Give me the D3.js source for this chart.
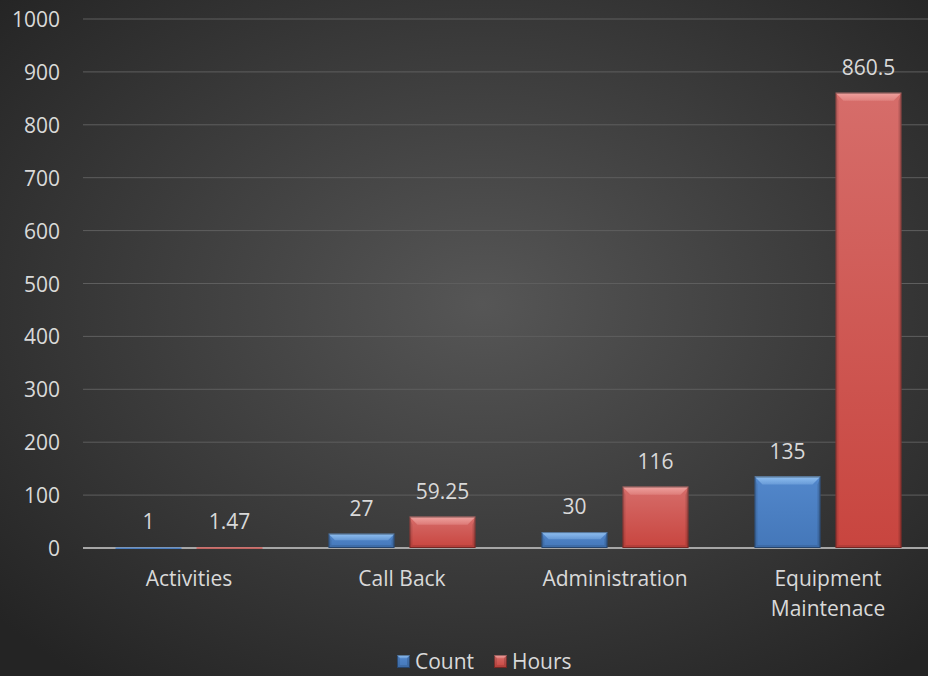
<!DOCTYPE html>
<html>
<head>
<meta charset="utf-8">
<script src="https://cdn.jsdelivr.net/npm/d3@7"></script>
<style>
  html, body { margin: 0; padding: 0; background: #2b2b2b; }
  svg { display: block; }
  text { font-family: "Open Sans", Lato, sans-serif; fill: #d9d9d9; }
</style>
</head>
<body>
<svg id="chart" width="928" height="676"></svg>
<script>
// Work categories and the two measured series
const categories = ["Activities", "Call Back", "Administration", "Equipment Maintenace"];
const categoryLines = [["Activities"], ["Call Back"], ["Administration"], ["Equipment", "Maintenace"]];
const seriesNames = ["Count", "Hours"];
const countValues = [1, 27, 30, 135];
const hoursValues = [1.47, 59.25, 116, 860.5];
const yTicks = [0, 100, 200, 300, 400, 500, 600, 700, 800, 900, 1000];

const seriesColors = {
  Count: { top: "#5287cb", bottom: "#4477b9", bevel: "#93c2f2" },
  Hours: { top: "#d66d6a", bottom: "#c8453f", bevel: "#f0a4a1" }
};

const W = 928, H = 676;
const FONT = 21;
const svg = d3.select("#chart");
const defs = svg.append("defs");

// Background: radial vignette
const bg = defs.append("radialGradient").attr("id", "bg")
  .attr("cx", "52%").attr("cy", "45%").attr("r", "70%");
bg.append("stop").attr("offset", "0%").attr("stop-color", "#565656");
bg.append("stop").attr("offset", "100%").attr("stop-color", "#242424");
svg.append("rect").attr("width", W).attr("height", H).attr("fill", "url(#bg)");

// Bar body and bevel gradients
seriesNames.forEach(s => {
  const g = defs.append("linearGradient").attr("id", "grad-" + s)
    .attr("x1", 0).attr("y1", 0).attr("x2", 0).attr("y2", 1);
  g.append("stop").attr("offset", "0%").attr("stop-color", seriesColors[s].top);
  g.append("stop").attr("offset", "100%").attr("stop-color", seriesColors[s].bottom);
  const b = defs.append("linearGradient").attr("id", "bev-" + s)
    .attr("x1", 0).attr("y1", 0).attr("x2", 0).attr("y2", 1);
  b.append("stop").attr("offset", "0%").attr("stop-color", seriesColors[s].bevel).attr("stop-opacity", 0.95);
  b.append("stop").attr("offset", "100%").attr("stop-color", seriesColors[s].bevel).attr("stop-opacity", 0.35);
});

// Scales
const y = d3.scaleLinear().domain([0, 1000]).range([548, 19]);
const x0 = d3.scaleBand().domain(categories).range([82.5, 934.5]).padding(0);
const x1 = d3.scaleBand().domain(seriesNames).range([0, x0.bandwidth()])
  .paddingInner(0.185).paddingOuter(0.407);

// Gridlines
svg.append("g").attr("class", "grid")
  .selectAll("line").data(yTicks.filter(t => t > 0)).join("line")
  .attr("x1", 83).attr("x2", W)
  .attr("y1", d => y(d)).attr("y2", d => y(d))
  .attr("stroke", "#5e5e5e").attr("stroke-width", 1);

// Y axis tick labels
const yAxis = d3.axisLeft(y).tickValues(yTicks).tickFormat(d3.format("d")).tickSize(0).tickPadding(0);
const ya = svg.append("g").attr("transform", "translate(60,0)").call(yAxis);
ya.select(".domain").remove();
ya.selectAll("text")
  .attr("font-size", FONT)
  .attr("fill", "#d9d9d9")
  .attr("dy", "0.36em")
  .style("font-family", "'Open Sans', Lato, sans-serif");

// Zero baseline (bars sit on top of it)
svg.append("line").attr("x1", 83).attr("x2", W).attr("y1", y(0)).attr("y2", y(0))
  .attr("stroke", "#a6a6a6").attr("stroke-width", 2);

// Data rows
const rows = categories.map((c, i) => ({ category: c, Count: countValues[i], Hours: hoursValues[i] }));

// Bevelled bar drawer
function bevelBar(g, x, yTop, w, h, s) {
  g.append("rect").attr("x", x).attr("y", yTop).attr("width", w).attr("height", Math.max(h, 1.5))
    .attr("fill", "url(#grad-" + s + ")");
  const pts = a => a.map(p => p.join(",")).join(" ");
  const b = Math.max(0, Math.min(8, h / 2.2, w / 4));
  const sb = Math.min(3, b);
  if (b > 0.5) {
    // side and bottom edges
    g.append("polygon")
      .attr("points", pts([[x, yTop], [x + sb, yTop + b], [x + sb, yTop + h - sb], [x, yTop + h]]))
      .attr("fill", "#000").attr("opacity", 0.1);
    g.append("polygon")
      .attr("points", pts([[x + w, yTop], [x + w - sb, yTop + b], [x + w - sb, yTop + h - sb], [x + w, yTop + h]]))
      .attr("fill", "#000").attr("opacity", 0.14);
    g.append("polygon")
      .attr("points", pts([[x, yTop + h], [x + sb, yTop + h - sb], [x + w - sb, yTop + h - sb], [x + w, yTop + h]]))
      .attr("fill", "#000").attr("opacity", 0.1);
    // lit top face
    g.append("polygon")
      .attr("points", pts([[x, yTop], [x + w, yTop], [x + w - b, yTop + b], [x + b, yTop + b]]))
      .attr("fill", "url(#bev-" + s + ")");
  }
  if (h > 2) {
    g.append("rect").attr("x", x + 0.5).attr("y", yTop + 0.5)
      .attr("width", Math.max(0, w - 1)).attr("height", Math.max(0, h - 1))
      .attr("fill", "none").attr("stroke", "#000").attr("stroke-opacity", 0.35).attr("stroke-width", 1);
  }
}

const barsG = svg.append("g").attr("class", "bars");
rows.forEach(r => {
  seriesNames.forEach(s => {
    const v = r[s];
    const bx = x0(r.category) + x1(s);
    const by = y(v);
    const bh = y(0) - y(v);
    bevelBar(barsG.append("g"), bx, by, x1.bandwidth(), bh, s);
    barsG.append("text")
      .attr("x", bx + x1.bandwidth() / 2)
      .attr("y", by - 18)
      .attr("text-anchor", "middle")
      .attr("font-size", FONT)
      .text(v);
  });
});

// Category labels
const catG = svg.append("g");
categories.forEach((c, i) => {
  const cx = x0(c) + x0.bandwidth() / 2;
  const t = catG.append("text")
    .attr("x", cx)
    .attr("y", 586)
    .attr("text-anchor", "middle")
    .attr("font-size", FONT);
  categoryLines[i].forEach((line, j) => {
    t.append("tspan").attr("x", cx).attr("dy", j === 0 ? 0 : 30).text(line);
  });
});

// Legend
const legend = svg.append("g");
const legendItems = [{ name: "Count", x: 397 }, { name: "Hours", x: 494 }];
legendItems.forEach(it => {
  const g = legend.append("g");
  bevelBar(g, it.x, 655, 13, 13, it.name);
  g.append("text").attr("x", it.x + 18).attr("y", 669)
    .attr("font-size", FONT).text(it.name);
});
</script>
</body>
</html>
